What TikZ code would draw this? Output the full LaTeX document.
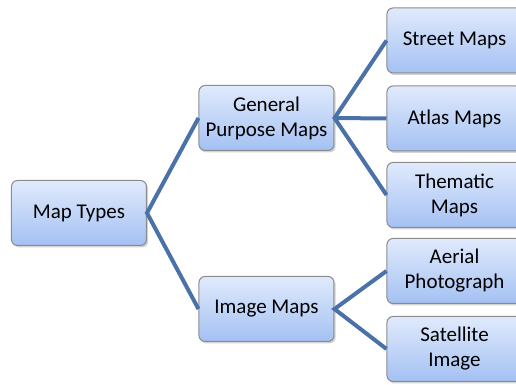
\documentclass[tikz,border=0pt]{standalone}
\usepackage{fontspec}
\setmainfont{Carlito}
\usetikzlibrary{shadows}
\definecolor{linkblue}{RGB}{74,114,168}
\definecolor{boxtop}{RGB}{224,234,252}
\definecolor{boxbot}{RGB}{164,193,243}
\definecolor{boxline}{RGB}{140,140,140}
\tikzset{
  mapbox/.style={draw=boxline, line width=0.5pt, rounded corners=3pt,
    top color=boxtop, bottom color=boxbot, align=center,
    minimum width=67.5pt, minimum height=32.5pt, inner sep=1pt,
    font=\fontsize{10.5}{12.5}\selectfont,
    drop shadow={shadow xshift=0.8pt, shadow yshift=-1pt, opacity=0.35}},
  link/.style={draw=linkblue, line width=2pt}
}
\begin{document}
\begin{tikzpicture}[x=0.5pt,y=-0.5pt]
%picture
\useasboundingbox (0,0) rectangle (516,385);
\node[mapbox] (types) at (79,213) {Map Types};
\node[mapbox] (general) at (266.5,118) {General\\Purpose Maps};
\node[mapbox] (image) at (266.5,309) {Image Maps};
\node[mapbox] (street) at (454.5,40.5) {Street Maps};
\node[mapbox] (atlas) at (454.5,118.5) {Atlas Maps};
\node[mapbox] (thematic) at (454.5,195) {Thematic\\Maps};
\node[mapbox] (aerial) at (454.5,271) {Aerial\\Photograph};
\node[mapbox] (satellite) at (454.5,349) {Satellite\\Image};
\draw[link] (general.west) -- (types.east) -- (image.west);
\draw[link] (street.west) -- (general.east) -- (thematic.west);
\draw[link] (general.east) -- (atlas.west);
\draw[link] (aerial.west) -- (image.east) -- (satellite.west);
\end{tikzpicture}
\end{document}
